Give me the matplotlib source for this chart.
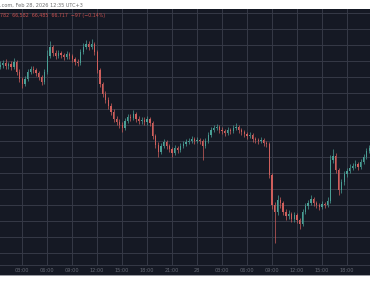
import matplotlib
matplotlib.use("Agg")
import matplotlib.pyplot as plt
import matplotlib.dates as mdates
from matplotlib.patches import Rectangle
import pandas as pd

# 20-minute candles, BTC/USD, Feb 27 - Feb 28 2026
start_time = "2026-02-27 00:20"
first_open = 67725

closes = [
    67750, 67775, 67738, 67762, 67725, 67788, 67662, 67575, 67512, 67575,
    67662, 67700, 67688, 67650, 67600, 67538, 67662, 67862, 67975, 67900,
    67862, 67900, 67875, 67850, 67888, 67862, 67825, 67788, 67775, 67912,
    67975, 68012, 67975, 68012, 67912, 67688, 67512, 67388, 67312, 67238,
    67162, 67075, 67038, 67000, 66962, 67050, 67100, 67088, 67138, 67075,
    67050, 67062, 67038, 67075, 67025, 66862, 66750, 66662, 66738, 66788,
    66738, 66700, 66650, 66712, 66688, 66738, 66762, 66788, 66800, 66825,
    66800, 66812, 66800, 66738, 66800, 66875, 66938, 66962, 66975, 66938,
    66925, 66900, 66938, 66925, 66962, 66975, 66938, 66912, 66888, 66862,
    66875, 66825, 66812, 66800, 66812, 66775, 66762, 66375, 66000, 65912,
    66062, 66025, 65912, 65862, 65888, 65825, 65875, 65812, 65762, 65912,
    65988, 66025, 66075, 66025, 66000, 65975, 66012, 66000, 66050, 66562,
    66612, 66438, 66188, 66288, 66388, 66425, 66462, 66488, 66512, 66475,
    66538, 66600, 66675, 66712,
]
highs = [
    67800, 67812, 67820, 67790, 67800, 67838, 67812, 67700, 67600, 67612,
    67700, 67738, 67738, 67712, 67675, 67625, 67700, 67938, 68050, 68000,
    67938, 67938, 67925, 67900, 67925, 67912, 67888, 67850, 67825, 67950,
    68025, 68062, 68050, 68075, 68038, 67938, 67712, 67538, 67425, 67350,
    67275, 67200, 67112, 67075, 67038, 67088, 67138, 67138, 67188, 67162,
    67112, 67100, 67100, 67112, 67100, 67050, 66888, 66788, 66775, 66825,
    66812, 66762, 66725, 66750, 66738, 66775, 66800, 66825, 66838, 66862,
    66850, 66850, 66838, 66825, 66838, 66912, 66975, 67000, 67012, 67000,
    66975, 66950, 66975, 66962, 67000, 67025, 67000, 66962, 66938, 66912,
    66912, 66900, 66850, 66838, 66850, 66838, 66800, 66788, 66400, 66038,
    66125, 66100, 66050, 65950, 65938, 65912, 65912, 65900, 65838, 65950,
    66025, 66062, 66125, 66100, 66050, 66025, 66050, 66038, 66100, 66625,
    66700, 66650, 66462, 66325, 66425, 66462, 66512, 66525, 66562, 66538,
    66575, 66638, 66712, 66750,
]
lows = [
    67700, 67712, 67700, 67700, 67688, 67700, 67625, 67538, 67462, 67488,
    67550, 67638, 67650, 67612, 67562, 67500, 67512, 67638, 67838, 67862,
    67825, 67838, 67838, 67812, 67825, 67825, 67788, 67750, 67738, 67750,
    67888, 67950, 67938, 67950, 67875, 67650, 67475, 67350, 67275, 67200,
    67125, 67038, 67000, 66962, 66912, 66938, 67025, 67050, 67062, 67038,
    67012, 67012, 67000, 67000, 66988, 66825, 66712, 66600, 66638, 66712,
    66700, 66662, 66600, 66625, 66650, 66662, 66712, 66738, 66762, 66775,
    66762, 66775, 66762, 66562, 66712, 66775, 66850, 66912, 66938, 66900,
    66888, 66862, 66875, 66888, 66900, 66938, 66900, 66875, 66850, 66825,
    66838, 66788, 66775, 66762, 66775, 66738, 66725, 66338, 65950, 65525,
    65875, 65962, 65875, 65812, 65825, 65788, 65788, 65775, 65700, 65738,
    65888, 65950, 66000, 65988, 65962, 65938, 65950, 65962, 65975, 66025,
    66525, 66400, 66125, 66150, 66250, 66350, 66400, 66438, 66462, 66438,
    66450, 66512, 66575, 66650,
]
opens = [first_open] + closes[:-1]

x_ticks = ["2026-02-27 03:00", "2026-02-27 06:00", "2026-02-27 09:00", "2026-02-27 12:00",
           "2026-02-27 15:00", "2026-02-27 18:00", "2026-02-27 21:00", "2026-02-28 00:00",
           "2026-02-28 03:00", "2026-02-28 06:00", "2026-02-28 09:00", "2026-02-28 12:00",
           "2026-02-28 15:00", "2026-02-28 18:00"]
x_labels = ["03:00", "06:00", "09:00", "12:00", "15:00", "18:00", "21:00", "28",
            "03:00", "06:00", "09:00", "12:00", "15:00", "18:00"]
price_grid = list(range(65400, 68401, 200))

header = ".com, Feb 28, 2026 12:35 UTC+3"
legend_text = "782  66,582  66,485  66,717  \u221297 (\u22120.14%)"

BG = "#151924"
GRID = "#33374380"
UP = "#4a9f95"
DOWN = "#cf5f5c"

times = pd.date_range(start_time, periods=len(closes), freq="20min")
tnum = mdates.date2num(times)

fig = plt.figure(figsize=(3.7, 2.97), dpi=100, facecolor="white")
fig.patches.append(Rectangle((0, 1 - 275 / 297), 1, 266 / 297, transform=fig.transFigure,
                             facecolor=BG, edgecolor="none", zorder=-5))
fig.patches.append(Rectangle((0, 1 - 276 / 297), 1, 1 / 297, transform=fig.transFigure,
                             facecolor="#9a9ca3", edgecolor="none", zorder=-5))

ax = fig.add_axes([0, 32 / 297, 1, 256 / 297])
ax.set_facecolor(BG)

width = 20 / 1440 * 0.45
for t, o, h, l, c in zip(tnum, opens, highs, lows, closes):
    col = UP if c >= o else DOWN
    ax.vlines(t, l, h, color=col, lw=0.5, zorder=3)
    ax.bar(t, abs(c - o) or 6, bottom=min(o, c), width=width, color=col,
           edgecolor="none", zorder=4)

ax.set_xlim(mdates.date2num(pd.Timestamp("2026-02-27 00:20")),
            mdates.date2num(pd.Timestamp("2026-02-28 20:46")))
ax.set_ylim(65250, 68450)

ax.set_xticks(mdates.date2num(pd.to_datetime(x_ticks)))
ax.set_xticklabels(x_labels)
ax.set_yticks(price_grid)
ax.grid(True, color="#363a47", lw=0.7, zorder=1)
ax.set_axisbelow(True)
ax.tick_params(axis="x", length=0, pad=2.5, labelsize=3.6, colors="#666a75")
ax.tick_params(axis="y", length=0, labelleft=False)
for side in ["top", "left", "right"]:
    ax.spines[side].set_visible(False)
ax.spines["bottom"].set_color("#363a47")
ax.spines["bottom"].set_linewidth(0.7)

fig.text(0.0, 1 - 5 / 297, header, fontsize=3.6, color="#6f6f6f", va="center", ha="left")
fig.text(0.0, 1 - 15 / 297, legend_text, fontsize=3.4, color="#c9504f", va="center", ha="left")

fig.savefig("out.png", dpi=100, facecolor="white")
